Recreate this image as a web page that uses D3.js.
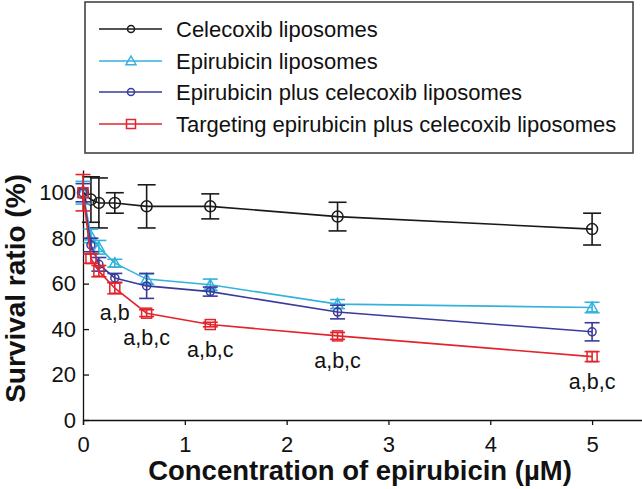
<!DOCTYPE html>
<html>
<head>
<meta charset="utf-8">
<script src="https://cdn.jsdelivr.net/npm/d3@7"></script>
<style>
  html, body { margin: 0; padding: 0; background: #fff; }
  svg { display: block; font-family: "Liberation Sans", Arial, sans-serif; }
</style>
</head>
<body>
<svg id="chart" width="642" height="489"></svg>
<script>
// ---- data ----
const concentrations = [0, 0.078, 0.156, 0.3125, 0.625, 1.25, 2.5, 5];
const seriesNames = [
  "Celecoxib liposomes",
  "Epirubicin liposomes",
  "Epirubicin plus celecoxib liposomes",
  "Targeting epirubicin plus celecoxib liposomes"
];
const celecoxibMean = [100, 97, 95.5, 95.5, 94, 94, 89.5, 84];
const celecoxibErr  = [0, 10, 11, 4.5, 9.5, 5.5, 6.3, 7];
const epiMean = [100, 81, 76, 69, 62, 59.5, 51, 49.5];
const epiErr  = [5, 3, 3, 1.7, 2.3, 2.5, 2, 2.3];
const epiCeleMean = [100, 77, 68.5, 62.5, 59, 56.5, 47.5, 38.8];
const epiCeleErr  = [4, 3, 3, 2, 5.5, 2, 3, 4];
const targetMean = [100, 71, 65.5, 58, 47, 42, 37, 27.9];
const targetErr  = [8, 2, 2.5, 2.5, 1.5, 1, 1.5, 2.2];
const sigX = [0.3125, 0.625, 1.25, 2.5, 5];
const sigText = ["a,b", "a,b,c", "a,b,c", "a,b,c", "a,b,c"];
const xTicks = [0, 1, 2, 3, 4, 5];
const yTicks = [0, 20, 40, 60, 80, 100];

const series = [
  { name: seriesNames[0], mean: celecoxibMean, err: celecoxibErr, color: "#1a1a1a", marker: "circle", size: 5.5, cap: 9, legendSize: 3.5 },
  { name: seriesNames[1], mean: epiMean, err: epiErr, color: "#33b2dc", marker: "triangle", size: 5.5, cap: 7.5, legendSize: 5 },
  { name: seriesNames[2], mean: epiCeleMean, err: epiCeleErr, color: "#3a3a9c", marker: "circle", size: 4, cap: 7.5, legendSize: 3.5 },
  { name: seriesNames[3], mean: targetMean, err: targetErr, color: "#e2242c", marker: "square", size: 5, cap: 7.5, legendSize: 4.5 }
];

// ---- layout ----
const svg = d3.select("#chart");
const x = d3.scaleLinear().domain([0, 5.5]).range([83, 643]);
const y = d3.scaleLinear().domain([0, 110]).range([420, 170]);

// axes
const xAxis = svg.append("g").attr("transform", "translate(0,420)")
  .call(d3.axisBottom(x).tickValues(xTicks).tickSize(5).tickPadding(11).tickFormat(d3.format("d")));
xAxis.select(".domain").attr("stroke", "#111").attr("stroke-width", 1.3);
xAxis.selectAll(".tick line").attr("stroke", "#111").attr("stroke-width", 1.3);
xAxis.selectAll("text").attr("font-size", 22).attr("fill", "#111").attr("font-family", "Liberation Sans, Arial, sans-serif");

const yAxis = svg.append("g").attr("transform", "translate(83,0)")
  .call(d3.axisLeft(y).tickValues(yTicks).tickSize(-6).tickPadding(7).tickSizeOuter(0));
yAxis.select(".domain").attr("stroke", "#111").attr("stroke-width", 1.3);
yAxis.selectAll(".tick line").attr("stroke", "#111").attr("stroke-width", 1.3);
yAxis.selectAll("text").attr("font-size", 22).attr("fill", "#111").attr("font-family", "Liberation Sans, Arial, sans-serif");

// axis titles
svg.append("text")
  .attr("x", 360).attr("y", 480)
  .attr("text-anchor", "middle")
  .attr("font-size", 27.5).attr("font-weight", "bold").attr("fill", "#111")
  .text("Concentration of epirubicin (\u00b5M)");
svg.append("text")
  .attr("transform", "translate(25,288.5) rotate(-90)")
  .attr("text-anchor", "middle")
  .attr("font-size", 28).attr("font-weight", "bold").attr("fill", "#111")
  .text("Survival ratio (%)");

function drawMarker(g, type, cx, cy, s, color) {
  if (type === "circle") {
    g.append("circle").attr("cx", cx).attr("cy", cy).attr("r", s)
      .attr("fill", "none").attr("stroke", color).attr("stroke-width", 1.5);
  } else if (type === "square") {
    g.append("rect").attr("x", cx - s).attr("y", cy - s).attr("width", 2 * s).attr("height", 2 * s)
      .attr("fill", "none").attr("stroke", color).attr("stroke-width", 1.5);
  } else if (type === "triangle") {
    g.append("path")
      .attr("d", `M${cx},${cy - s} L${cx + s},${cy + s * 0.75} L${cx - s},${cy + s * 0.75} Z`)
      .attr("fill", "none").attr("stroke", color).attr("stroke-width", 1.5);
  }
}

// series
const line = d3.line().x(d => x(d[0])).y(d => y(d[1]));
series.forEach(s => {
  const g = svg.append("g");
  const pts = concentrations.map((c, i) => [c, s.mean[i], s.err[i]]);
  g.append("path").datum(pts).attr("d", line)
    .attr("fill", "none").attr("stroke", s.color).attr("stroke-width", 1.6);
  pts.forEach(p => {
    const cx = x(p[0]);
    if (p[2] > 0) {
      const y1 = y(p[1] + p[2]), y2 = y(p[1] - p[2]);
      g.append("line").attr("x1", cx).attr("x2", cx).attr("y1", y1).attr("y2", y2)
        .attr("stroke", s.color).attr("stroke-width", 1.6);
      [y1, y2].forEach(yy => g.append("line")
        .attr("x1", cx - s.cap).attr("x2", cx + s.cap).attr("y1", yy).attr("y2", yy)
        .attr("stroke", s.color).attr("stroke-width", 1.6));
    }
    drawMarker(g, s.marker, cx, y(p[1]), s.size, s.color);
  });
});

// significance labels under red series
sigX.forEach((sx, i) => {
  const idx = concentrations.indexOf(sx);
  svg.append("text")
    .attr("x", x(sx)).attr("y", y(targetMean[idx]) + 32)
    .attr("text-anchor", "middle")
    .attr("font-size", 21.5).attr("fill", "#111")
    .text(sigText[i]);
});

// legend
const lg = svg.append("g");
lg.append("rect").attr("x", 85).attr("y", 2).attr("width", 548).attr("height", 151)
  .attr("fill", "#fff").attr("stroke", "#444").attr("stroke-width", 1.6);
const rowY = [29, 61, 92, 124];
series.forEach((s, i) => {
  const yy = rowY[i];
  lg.append("line").attr("x1", 99).attr("x2", 162).attr("y1", yy).attr("y2", yy)
    .attr("stroke", s.color).attr("stroke-width", 1.6);
  drawMarker(lg, s.marker, 131, yy, s.legendSize, s.color);
  lg.append("text").attr("x", 176).attr("y", yy + 7.5)
    .attr("font-size", 22).attr("fill", "#111").text(s.name);
});
</script>
</body>
</html>
